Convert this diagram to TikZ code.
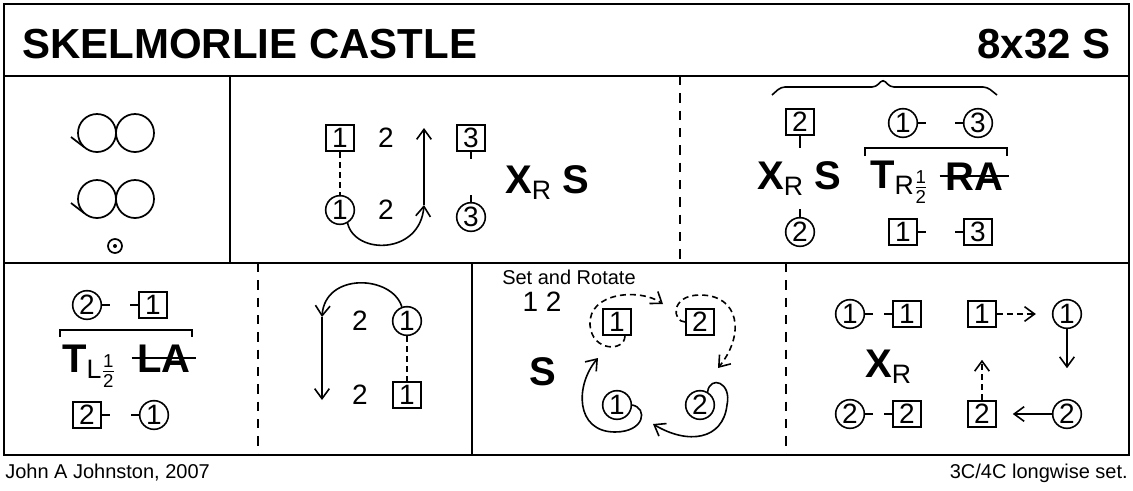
\documentclass[tikz,border=0pt]{standalone}
\usepackage{fontspec}
\setmainfont{Liberation Sans}
\usepackage{amsmath}
\usetikzlibrary{arrows.meta}
\newcommand{\titlefont}{\fontsize{31.5}{31.5}\selectfont\bfseries}
\newcommand{\numfont}{\fontsize{21}{21}\selectfont}
\newcommand{\figfont}{\fontsize{30}{30}\selectfont\bfseries}
\newcommand{\hand}[1]{\raisebox{-4.5pt}{\mdseries\fontsize{20}{20}\selectfont #1}}
\newcommand{\half}{$\frac{\text{1}}{\text{2}}$}
\tikzset{
  >={Straight Barb[length=7.5pt,width=11pt]},
  man/.style={draw,line width=1.2pt,minimum width=21pt,minimum height=19.5pt,inner sep=0pt,font=\numfont},
  lady/.style={circle,draw,line width=1.2pt,minimum size=21.5pt,inner sep=0pt,font=\numfont},
  num/.style={font=\numfont,inner sep=0pt},
  fig/.style={font=\figfont,anchor=base west,inner sep=0pt},
  note/.style={font=\fontsize{15}{15}\selectfont,inner sep=0pt},
  link/.style={line width=1.2pt},
  dash link/.style={line width=1.2pt,dash pattern=on 4.5pt off 3pt},
  track/.style={->,line width=1.2pt},
  panel line/.style={line width=1.6pt},
  panel dash/.style={line width=1.3pt,dash pattern=on 7pt off 6pt},
  % figure of eight symbol
  pics/reel/.style={code={
    \draw[line width=1.3pt] (-19,0) circle[radius=19] (19,0) circle[radius=19];
    \draw[line width=1.3pt] (-45,4) -- (-32,14);
  }},
}
\begin{document}
\begin{tikzpicture}[x=0.75pt,y=-0.75pt]
  \useasboundingbox (0,0) rectangle (1133,490);
  % frame
  \draw[panel line] (4,4) rectangle (1129,455);
  \draw[panel line] (4,76) -- (1129,76);
  \draw[panel line] (4,263) -- (1129,263);
  \draw[panel line] (230,76) -- (230,263);
  \draw[panel dash] (680,76) -- (680,263);
  \draw[panel dash] (258,263) -- (258,455);
  \draw[panel line] (472,263) -- (472,455);
  \draw[panel dash] (786,263) -- (786,455);
  \node[font=\titlefont,anchor=base west,inner sep=0pt] (name) at (22,58) {SKELMORLIE CASTLE};
  \node[font=\titlefont,anchor=base east,inner sep=0pt] (bars) at (1111,58) {8x32 S};
  \node[note,anchor=base west] (auth) at (5,478) {John A Johnston, 2007};
  \node[note,anchor=base east] (kind) at (1128,478) {3C/4C longwise set.};

  % reels
  \pic at (116,133) {reel};
  \pic at (116,199) {reel};
  \draw[line width=1.3pt] (115,246) circle[radius=7];
  \fill (115,246) circle[radius=2];

  % cross and set
  \node[man] (am1) at (340,138) {1};
  \node[num] (at2) at (386,138) {2};
  \node[man] (am3) at (471,138) {3};
  \node[lady] (aw1) at (340,210) {1};
  \node[num] (ab2) at (386,210) {2};
  \node[lady] (aw3) at (471,217) {3};
  \coordinate (aturn) at (424,205);
  \coordinate (aup) at (424,128);
  \draw[dash link] (am1) -- (aw1);
  \draw[link] (am3.south) -- ++(0,7);
  \draw[link] (aw3.north) -- ++(0,-7);
  \draw[track] (aw1.-60) .. controls (355,255) and (420,255) .. (aturn);
  \draw[track] (aturn) -- (aup);
  \node[fig] (axs) at (505,193) {X\hand{R} S};

  % turn
  \draw[link,rounded corners=3pt] (772,95) -- (781,87) -- (876,87) -- (883,79) -- (890,87) -- (987,87) -- (997,95);
  \node[man] (bm2) at (800,122) {2};
  \draw[link] (bm2.south) -- ++(0,12);
  \node[fig] (bxs) at (757,189) {X\hand{R} S};
  \node[lady] (bw2) at (800,232) {2};
  \draw[link] (bw2.north) -- ++(0,-8);
  \node[lady] (bw1) at (903,123) {1};
  \node[lady] (bw3) at (978,123) {3};
  \draw[link] (bw1.east) -- ++(8,0);
  \draw[link] (bw3.west) -- ++(-8,0);
  \draw[link] (865,156) -- (865,148) -- (1007,148) -- (1007,156);
  \node[fig] (bt) at (870,188) {T\hand{R\half}};
  \node[fig] (bra) at (945,190) {RA};
  \draw[link] ([xshift=-4pt]bra.west) -- ([xshift=4pt]bra.east);
  \node[man] (bm1) at (903,232) {1};
  \node[man] (bm3) at (978,232) {3};
  \draw[link] (bm1.east) -- ++(8,0);
  \draw[link] (bm3.west) -- ++(-8,0);

  % left hands across
  \node[lady] (cw2) at (87,305) {2};
  \node[man] (cm1) at (153,305) {1};
  \draw[link] (cw2.east) -- ++(8,0);
  \draw[link] (cm1.west) -- ++(-8,0);
  \draw[link] (60,337) -- (60,330) -- (192,330) -- (192,337);
  \node[fig] (ct) at (62,372) {T\hand{L\half}};
  \node[fig] (cla) at (137,372) {LA};
  \draw[link] ([xshift=-4pt]cla.west) -- ([xshift=4pt]cla.east);
  \node[man] (cm2) at (87,415) {2};
  \node[lady] (cw1) at (154,415) {1};
  \draw[link] (cm2.east) -- ++(8,0);
  \draw[link] (cw1.west) -- ++(-8,0);

  % cast
  \node[lady] (dw1) at (407,321) {1};
  \node[man] (dm1) at (407,395) {1};
  \node[num] (dt2) at (360,321) {2};
  \node[num] (db2) at (360,395) {2};
  \coordinate (dturn) at (322,317);
  \coordinate (ddown) at (322,400);
  \draw[dash link] (dw1) -- (dm1);
  \draw[track] (dw1.110) .. controls (392,275) and (325,272) .. (dturn);
  \draw[track] (dturn) -- (ddown);

  % set and rotate
  \node[note,anchor=base west] (sr) at (502,284) {Set and Rotate};
  \node[num] (e12) at (542,302) {1 2};
  \node[fig] (es) at (529,385) {S};
  \node[man] (em1) at (617,322) {1};
  \node[man] (em2) at (700,322) {2};
  \node[lady] (ew1) at (617,405) {1};
  \node[lady] (ew2) at (700,405) {2};
  \coordinate (e1) at (663,304);
  \coordinate (e2) at (718,368);
  \coordinate (e3) at (653,424);
  \coordinate (e4) at (598,358);
  \draw[dash link,->] (em1.-60) .. controls (625,352) and (592,352) .. (590,325) .. controls (588,292) and (640,288) .. (e1);
  \draw[dash link,->] (em2.west) .. controls (672,322) and (670,295) .. (700,295) .. controls (740,295) and (745,335) .. (e2);
  \draw[track] (ew2.60) .. controls (710,375) and (732,382) .. (727,405) .. controls (723,440) and (688,445) .. (e3);
  \draw[track] (ew1.east) .. controls (648,408) and (645,432) .. (615,432) .. controls (575,432) and (575,385) .. (e4);

  % cross right
  \node[lady] (fw1) at (850,314) {1};
  \node[man] (fm1) at (907,314) {1};
  \draw[link] (fw1.east) -- ++(8,0);
  \draw[link] (fm1.west) -- ++(-8,0);
  \node[fig] (fx) at (865,377) {X\hand{R}};
  \node[lady] (fw2) at (850,414) {2};
  \node[man] (fm2) at (907,414) {2};
  \draw[link] (fw2.east) -- ++(8,0);
  \draw[link] (fm2.west) -- ++(-8,0);
  \node[man] (gm1) at (982,314) {1};
  \node[lady] (gw1) at (1067,314) {1};
  \node[man] (gm2) at (982,414) {2};
  \node[lady] (gw2) at (1067,414) {2};
  \draw[dash link,->,shorten >=12pt] (gm1) -- (gw1);
  \draw[track,shorten >=23pt] (gw1) -- (gw2);
  \draw[track,shorten >=12pt] (gw2) -- (gm2);
  \draw[dash link,->,shorten >=24pt] (gm2) -- (gm1);
\end{tikzpicture}
\end{document}
